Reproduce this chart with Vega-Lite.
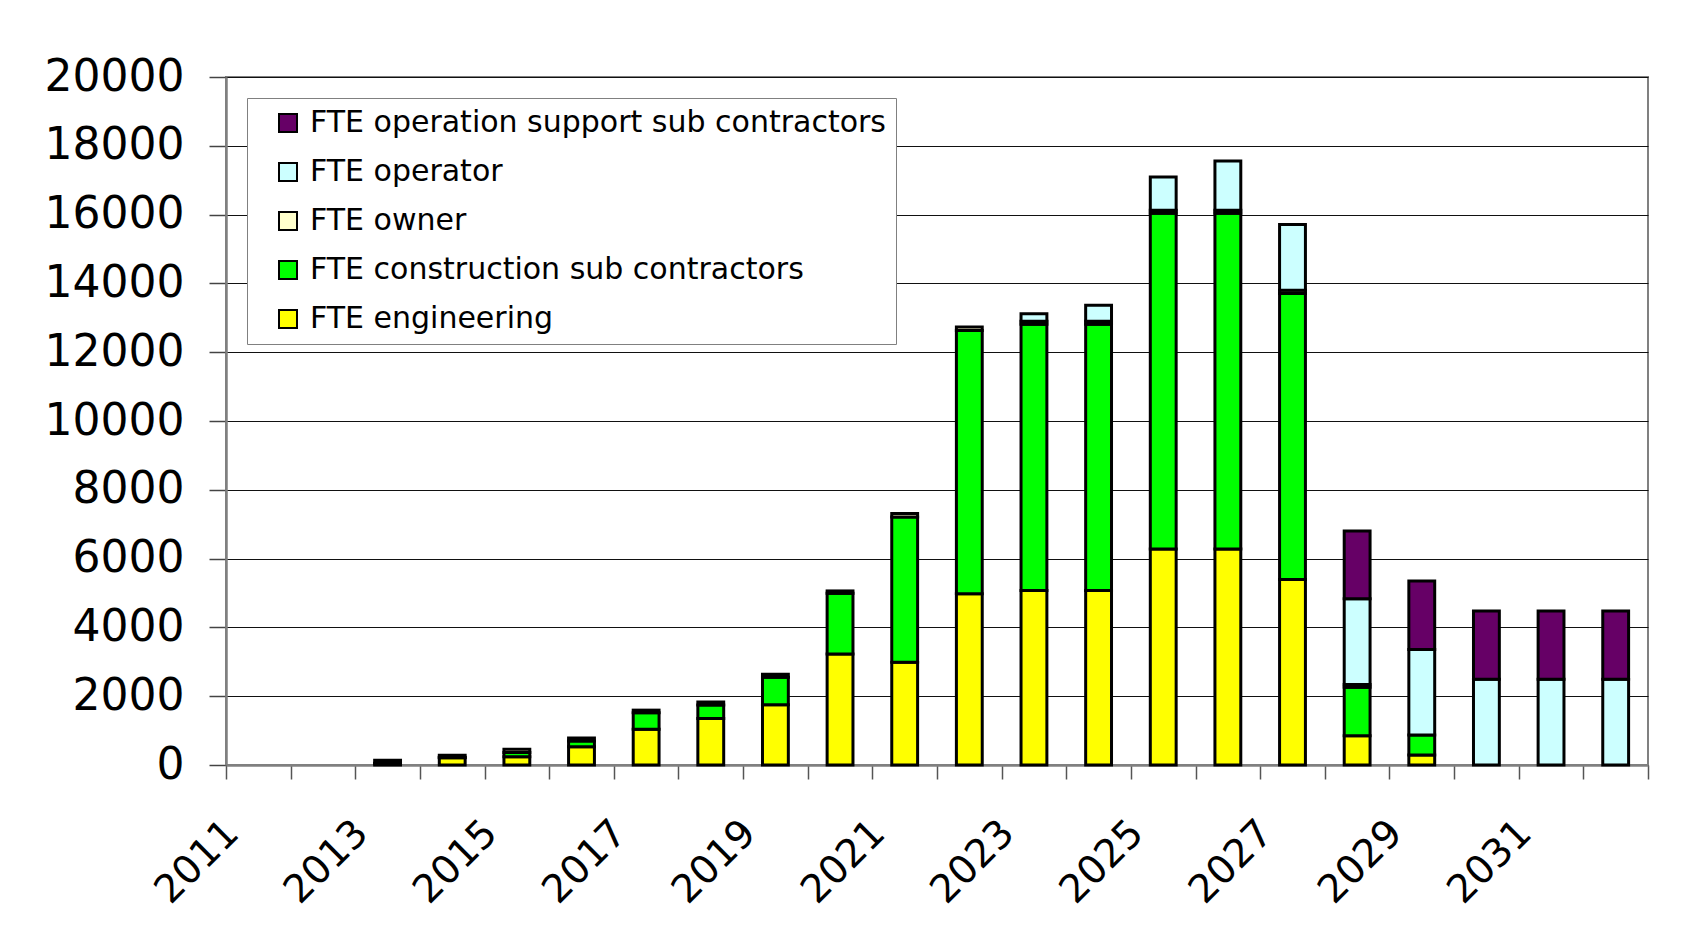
{
  "$schema": "https://vega.github.io/schema/vega-lite/v6.json",
  "width": 1422,
  "height": 688,
  "autosize": {"type": "none"},
  "padding": {"left": 226, "top": 77, "right": 38, "bottom": 180},
  "background": "white",
  "config": {
    "view": {"stroke": "#808080", "strokeWidth": 2},
    "font": "DejaVu Sans"
  },
  "data": {
    "values": [
      {"year": "2013", "series": 1, "category": "FTE engineering", "fte": 40},
      {"year": "2013", "series": 2, "category": "FTE construction sub contractors", "fte": 10},
      {"year": "2013", "series": 3, "category": "FTE owner", "fte": 90},
      {"year": "2014", "series": 1, "category": "FTE engineering", "fte": 210},
      {"year": "2014", "series": 2, "category": "FTE construction sub contractors", "fte": 15},
      {"year": "2014", "series": 3, "category": "FTE owner", "fte": 60},
      {"year": "2015", "series": 1, "category": "FTE engineering", "fte": 240},
      {"year": "2015", "series": 2, "category": "FTE construction sub contractors", "fte": 120},
      {"year": "2015", "series": 3, "category": "FTE owner", "fte": 100},
      {"year": "2016", "series": 1, "category": "FTE engineering", "fte": 530},
      {"year": "2016", "series": 2, "category": "FTE construction sub contractors", "fte": 165},
      {"year": "2016", "series": 3, "category": "FTE owner", "fte": 90},
      {"year": "2017", "series": 1, "category": "FTE engineering", "fte": 1040},
      {"year": "2017", "series": 2, "category": "FTE construction sub contractors", "fte": 480},
      {"year": "2017", "series": 3, "category": "FTE owner", "fte": 75},
      {"year": "2018", "series": 1, "category": "FTE engineering", "fte": 1350},
      {"year": "2018", "series": 2, "category": "FTE construction sub contractors", "fte": 395},
      {"year": "2018", "series": 3, "category": "FTE owner", "fte": 90},
      {"year": "2019", "series": 1, "category": "FTE engineering", "fte": 1750},
      {"year": "2019", "series": 2, "category": "FTE construction sub contractors", "fte": 800},
      {"year": "2019", "series": 3, "category": "FTE owner", "fte": 90},
      {"year": "2020", "series": 1, "category": "FTE engineering", "fte": 3230},
      {"year": "2020", "series": 2, "category": "FTE construction sub contractors", "fte": 1760},
      {"year": "2020", "series": 3, "category": "FTE owner", "fte": 70},
      {"year": "2021", "series": 1, "category": "FTE engineering", "fte": 2985},
      {"year": "2021", "series": 2, "category": "FTE construction sub contractors", "fte": 4225},
      {"year": "2021", "series": 3, "category": "FTE owner", "fte": 100},
      {"year": "2022", "series": 1, "category": "FTE engineering", "fte": 4980},
      {"year": "2022", "series": 2, "category": "FTE construction sub contractors", "fte": 7650},
      {"year": "2022", "series": 3, "category": "FTE owner", "fte": 100},
      {"year": "2023", "series": 1, "category": "FTE engineering", "fte": 5070},
      {"year": "2023", "series": 2, "category": "FTE construction sub contractors", "fte": 7740},
      {"year": "2023", "series": 3, "category": "FTE owner", "fte": 90},
      {"year": "2023", "series": 4, "category": "FTE operator", "fte": 220},
      {"year": "2024", "series": 1, "category": "FTE engineering", "fte": 5070},
      {"year": "2024", "series": 2, "category": "FTE construction sub contractors", "fte": 7740},
      {"year": "2024", "series": 3, "category": "FTE owner", "fte": 90},
      {"year": "2024", "series": 4, "category": "FTE operator", "fte": 465},
      {"year": "2025", "series": 1, "category": "FTE engineering", "fte": 6280},
      {"year": "2025", "series": 2, "category": "FTE construction sub contractors", "fte": 9760},
      {"year": "2025", "series": 3, "category": "FTE owner", "fte": 90},
      {"year": "2025", "series": 4, "category": "FTE operator", "fte": 965},
      {"year": "2026", "series": 1, "category": "FTE engineering", "fte": 6280},
      {"year": "2026", "series": 2, "category": "FTE construction sub contractors", "fte": 9760},
      {"year": "2026", "series": 3, "category": "FTE owner", "fte": 90},
      {"year": "2026", "series": 4, "category": "FTE operator", "fte": 1430},
      {"year": "2027", "series": 1, "category": "FTE engineering", "fte": 5390},
      {"year": "2027", "series": 2, "category": "FTE construction sub contractors", "fte": 8320},
      {"year": "2027", "series": 3, "category": "FTE owner", "fte": 90},
      {"year": "2027", "series": 4, "category": "FTE operator", "fte": 1910},
      {"year": "2028", "series": 1, "category": "FTE engineering", "fte": 850},
      {"year": "2028", "series": 2, "category": "FTE construction sub contractors", "fte": 1410},
      {"year": "2028", "series": 3, "category": "FTE owner", "fte": 80},
      {"year": "2028", "series": 4, "category": "FTE operator", "fte": 2490},
      {"year": "2028", "series": 5, "category": "FTE operation support sub contractors", "fte": 1975},
      {"year": "2029", "series": 1, "category": "FTE engineering", "fte": 290},
      {"year": "2029", "series": 2, "category": "FTE construction sub contractors", "fte": 580},
      {"year": "2029", "series": 4, "category": "FTE operator", "fte": 2490},
      {"year": "2029", "series": 5, "category": "FTE operation support sub contractors", "fte": 1990},
      {"year": "2030", "series": 4, "category": "FTE operator", "fte": 2490},
      {"year": "2030", "series": 5, "category": "FTE operation support sub contractors", "fte": 1990},
      {"year": "2031", "series": 4, "category": "FTE operator", "fte": 2490},
      {"year": "2031", "series": 5, "category": "FTE operation support sub contractors", "fte": 1990},
      {"year": "2032", "series": 4, "category": "FTE operator", "fte": 2490},
      {"year": "2032", "series": 5, "category": "FTE operation support sub contractors", "fte": 1990}
    ]
  },
  "mark": {"type": "bar", "stroke": "black", "strokeWidth": 3, "width": {"band": 0.4}},
  "encoding": {
    "x": {
      "field": "year",
      "type": "ordinal",
      "scale": {
        "domain": ["2011","2012","2013","2014","2015","2016","2017","2018","2019","2020","2021","2022","2023","2024","2025","2026","2027","2028","2029","2030","2031","2032"],
        "paddingInner": 0,
        "paddingOuter": 0
      },
      "axis": {
        "title": null,
        "tickBand": "extent",
        "labelAngle": -45,
        "labelAlign": "right",
        "labelBaseline": "top",
        "labelFont": "DejaVu Sans",
        "labelFontSize": 39,
        "labelColor": "black",
        "labelOffset": -40,
        "labelPadding": 34,
        "labelOverlap": false,
        "labelExpr": "toNumber(datum.value) % 2 == 1 ? datum.label : ''",
        "tickSize": 14,
        "tickColor": "#555555",
        "tickWidth": 1.5,
        "domainColor": "#808080",
        "domainWidth": 2.5,
        "grid": false
      }
    },
    "y": {
      "field": "fte",
      "type": "quantitative",
      "stack": "zero",
      "scale": {"domain": [0, 20000], "nice": false},
      "axis": {
        "title": null,
        "values": [0, 2000, 4000, 6000, 8000, 10000, 12000, 14000, 16000, 18000, 20000],
        "format": "d",
        "labelFont": "DejaVu Sans",
        "labelFontSize": 44,
        "labelColor": "black",
        "labelPadding": 25,
        "tickSize": 17,
        "tickColor": "#444444",
        "tickWidth": 1.5,
        "domainColor": "#808080",
        "domainWidth": 2.5,
        "grid": true,
        "gridColor": "#111111",
        "gridWidth": 1
      }
    },
    "order": {"field": "series", "type": "quantitative", "sort": "ascending"},
    "color": {
      "field": "category",
      "type": "nominal",
      "sort": ["FTE engineering", "FTE construction sub contractors", "FTE owner", "FTE operator", "FTE operation support sub contractors"],
      "scale": {
        "domain": ["FTE engineering", "FTE construction sub contractors", "FTE owner", "FTE operator", "FTE operation support sub contractors"],
        "range": ["#FFFF00", "#00FF00", "#FFFFCC", "#CCFFFF", "#660066"]
      },
      "legend": {
        "orient": "none",
        "legendX": 21,
        "legendY": 21,
        "title": null,
        "values": ["FTE operation support sub contractors", "FTE operator", "FTE owner", "FTE construction sub contractors", "FTE engineering"],
        "labelFont": "DejaVu Sans",
        "labelFontSize": 30,
        "labelColor": "black",
        "labelLimit": 1000,
        "symbolType": "square",
        "symbolSize": 324,
        "symbolStrokeColor": "black",
        "symbolStrokeWidth": 2,
        "symbolOffset": 16,
        "labelOffset": 7,
        "rowPadding": 19,
        "padding": 10,
        "strokeColor": "#808080",
        "fillColor": "white"
      }
    }
  }
}
